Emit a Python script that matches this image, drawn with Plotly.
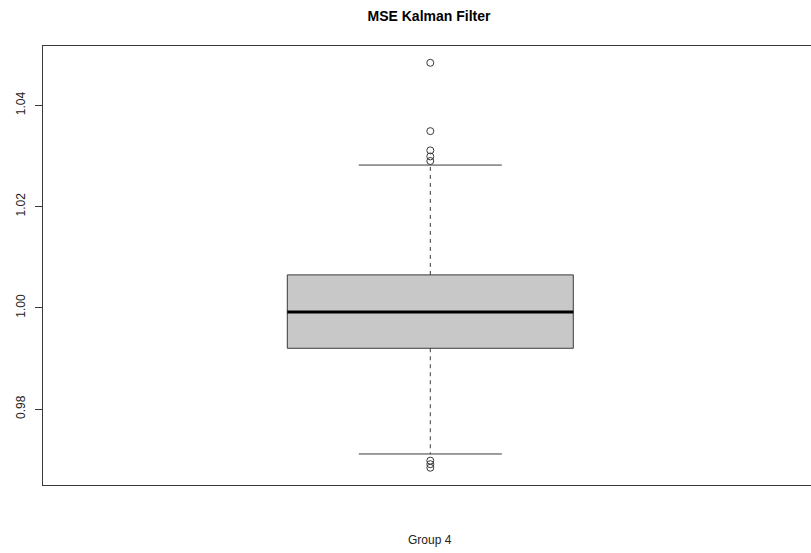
import plotly.graph_objects as go

# ---- data ----
group_label = "Group 4"
box_position = [1.0]
q1 = [0.9920]
median = [0.99917]
q3 = [1.0065]
lower_whisker = [0.97112]
upper_whisker = [1.0282]
outliers_high = [1.0484, 1.0349, 1.0311, 1.0299, 1.0290]
outliers_low = [0.9698, 0.9691, 0.9684]
y_tick_vals = [0.98, 1.00, 1.02, 1.04]
y_tick_text = ["0.98", "1.00", "1.02", "1.04"]

# ---- geometry ----
W, H = 811, 553
L, R, T, B = 43, 0, 46, 68
half_box = 0.4
half_cap = 0.2
px_per_unit = 357.5
x0 = 1 - 387.3 / px_per_unit
x1 = x0 + (W - L - R) / px_per_unit
y_lo, y_hi = 0.96499, 1.05172

line_col = "#3a3a3a"
fig = go.Figure()

for i, xc in enumerate(box_position):
    # box
    fig.add_trace(go.Scatter(
        x=[xc - half_box, xc + half_box, xc + half_box, xc - half_box, xc - half_box],
        y=[q1[i], q1[i], q3[i], q3[i], q1[i]],
        mode="lines", fill="toself", fillcolor="#c8c8c8",
        line=dict(color=line_col, width=1), hoverinfo="skip", showlegend=False))
    # median
    fig.add_trace(go.Scatter(
        x=[xc - half_box, xc + half_box], y=[median[i], median[i]],
        mode="lines", line=dict(color="black", width=3), showlegend=False))
    # whiskers (dashed)
    fig.add_trace(go.Scatter(
        x=[xc, xc, None, xc, xc],
        y=[q3[i], upper_whisker[i], None, q1[i], lower_whisker[i]],
        mode="lines", line=dict(color=line_col, width=1, dash="4px,4px"),
        showlegend=False))
    # caps
    fig.add_trace(go.Scatter(
        x=[xc - half_cap, xc + half_cap, None, xc - half_cap, xc + half_cap],
        y=[upper_whisker[i], upper_whisker[i], None, lower_whisker[i], lower_whisker[i]],
        mode="lines", line=dict(color=line_col, width=1), showlegend=False))
    # outliers
    outs = outliers_high + outliers_low
    fig.add_trace(go.Scatter(
        x=[xc] * len(outs), y=outs, mode="markers",
        marker=dict(symbol="circle-open", size=7, color=line_col,
                    line=dict(width=1, color=line_col)),
        showlegend=False))

fig.update_layout(
    width=W, height=H,
    margin=dict(l=L, r=R, t=T, b=B),
    paper_bgcolor="white", plot_bgcolor="white",
    font=dict(family="Liberation Sans, Arial, sans-serif", size=12, color="black"),
    title=dict(text="<b>MSE Kalman Filter</b>", x=429 / W, xanchor="center",
               y=1 - 16.5 / H, yanchor="middle",
               font=dict(size=14, color="black")),
    xaxis=dict(range=[x0, x1], showgrid=False, zeroline=False,
               showticklabels=False, ticks="",
               showline=True, mirror=True, linecolor=line_col, linewidth=1),
    yaxis=dict(range=[y_lo, y_hi], showgrid=False, zeroline=False,
               tickmode="array", tickvals=y_tick_vals, ticktext=y_tick_text,
               tickangle=-90, ticks="outside", ticklen=7, tickcolor=line_col,
               ticklabelstandoff=5,
               showline=True, mirror=False, linecolor=line_col, linewidth=1,
               tickfont=dict(size=12, color="#222")),
    annotations=[dict(text=group_label, x=box_position[0], xref="x",
                      y=-(540 - (H - B)) / (H - T - B), yref="paper",
                      yanchor="middle", xanchor="center", showarrow=False,
                      font=dict(size=12, color="#222"))],
)

fig.write_html("out.html")
